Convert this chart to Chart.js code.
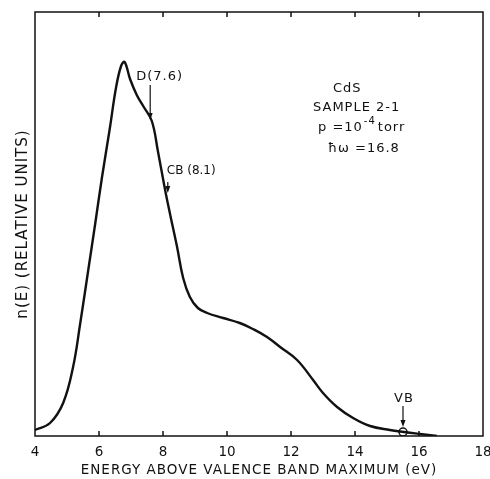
<!DOCTYPE html>
<html lang="en">
<head>
<meta charset="UTF-8">
<title>CdS n(E)</title>
<script src="https://cdn.jsdelivr.net/npm/chart.js"></script>
<style>
  * { margin: 0; padding: 0; box-sizing: border-box; }
  body { background: #fff; }
  #wrap { width: 490px; height: 479px; position: relative; }
</style>
</head>
<body>
<div id="wrap"><canvas id="chart"></canvas></div>
<script>
  // curve (eV, relative units)
  const energy = [4.0, 4.47, 4.88, 5.19, 5.41, 5.66, 5.88, 6.09, 6.34, 6.53, 6.69, 6.80, 6.97, 7.18, 7.38,
                  7.65, 7.84, 8.06, 8.22, 8.44, 8.63, 8.84, 9.09, 9.38, 9.88, 10.4, 10.81, 11.25, 11.66,
                  12.19, 12.69, 13.0, 13.44, 13.94, 14.47, 15.09, 15.53, 16.03, 16.56];
  const nE = [6, 13, 33, 69, 112, 165, 212, 258, 308, 348, 370, 374, 357, 341, 330,
              315, 285, 247, 222, 189, 158, 139, 128, 123, 118, 113, 107, 99, 89,
              76, 56, 43, 29, 18, 10, 6, 4, 2, 0];
  const xTicks = [4, 6, 8, 10, 12, 14, 16, 18];
  const vbEnergy = [15.5];
  const vbValue = [4];

  // arrow markers: label, x (eV), arrow from/to (relative units)
  const markers = [
    { text: 'D(7.6)', x: 7.6, from: 351, to: 316 },
    { text: 'CB (8.1)', x: 8.15, from: 254, to: 243 },
    { text: 'VB', x: 15.5, from: 30, to: 9 }
  ];

  const FONT = '"DejaVu Sans", sans-serif';

  // wide lettering on the axis titles, like the original drawing
  const spacingPlugin = {
    id: 'spacing',
    afterLayout(chart) {
      Object.values(chart.scales).forEach(s => {
        if (s._spaced) return;
        const orig = s.drawTitle;
        s.drawTitle = function () {
          this.ctx.letterSpacing = '1px';
          orig.apply(this, arguments);
          this.ctx.letterSpacing = '0px';
        };
        s._spaced = true;
      });
    }
  };

  const framePlugin = {
    id: 'frame',
    afterDraw(chart) {
      const { ctx, chartArea: a, scales: { x, y } } = chart;
      ctx.save();
      ctx.strokeStyle = '#111';
      ctx.lineWidth = 1.5;
      ctx.strokeRect(a.left, a.top, a.right - a.left, a.bottom - a.top);
      // inward ticks top and bottom
      xTicks.slice(1, -1).forEach(v => {
        const px = x.getPixelForValue(v);
        ctx.beginPath();
        ctx.moveTo(px, a.bottom); ctx.lineTo(px, a.bottom - 5);
        ctx.moveTo(px, a.top); ctx.lineTo(px, a.top + 5);
        ctx.stroke();
      });

      // arrows + labels
      ctx.fillStyle = '#111';
      ctx.lineWidth = 1.2;
      ctx.textBaseline = 'alphabetic';
      markers.forEach(m => {
        const px = x.getPixelForValue(m.x);
        const y1 = y.getPixelForValue(m.from), y2 = y.getPixelForValue(m.to);
        ctx.beginPath();
        ctx.moveTo(px, y1); ctx.lineTo(px, y2 - 5);
        ctx.stroke();
        ctx.beginPath();
        ctx.moveTo(px - 2.5, y2 - 7); ctx.lineTo(px + 2.5, y2 - 7); ctx.lineTo(px, y2);
        ctx.closePath(); ctx.fill();
        ctx.letterSpacing = '1px';
        ctx.font = '13px ' + FONT;
        if (m.text === 'VB') {
          ctx.textAlign = 'center';
          ctx.fillText(m.text, px + 1, y1 - 4);
        } else if (m.text.startsWith('D')) {
          ctx.textAlign = 'left';
          ctx.fillText(m.text, px - 14, y1 - 5);
        } else {
          ctx.letterSpacing = '0px';
          ctx.font = '12px ' + FONT;
          ctx.textAlign = 'left';
          ctx.fillText(m.text, px - 1, y1 - 8);
        }
      });

      // sample info block
      ctx.letterSpacing = '1px';
      ctx.font = '13px ' + FONT;
      ctx.textAlign = 'left';
      ctx.fillText('CdS', 333, 92);
      ctx.fillText('SAMPLE 2-1', 313, 111);
      ctx.fillText('p =10', 318, 131);
      const w = ctx.measureText('p =10').width;
      ctx.font = '10px ' + FONT;
      ctx.fillText('-4', 318 + w + 1, 124);
      const w2 = ctx.measureText('-4').width;
      ctx.font = '13px ' + FONT;
      ctx.fillText('torr', 318 + w + w2 + 3, 131);
      ctx.fillText('\u0127\u03C9 =16.8', 328, 152);
      ctx.restore();
    }
  };

  new Chart(document.getElementById('chart'), {
    type: 'line',
    data: {
      datasets: [
        {
          data: energy.map((e, i) => ({ x: e, y: nE[i] })),
          borderColor: '#111',
          borderWidth: 2.4,
          pointRadius: 0,
          tension: 0.4,
          fill: false
        },
        {
          data: vbEnergy.map((e, i) => ({ x: e, y: vbValue[i] })),
          showLine: false,
          pointRadius: 4,
          pointBorderWidth: 1.5,
          pointBorderColor: '#111',
          pointBackgroundColor: '#fff'
        },
        {
          data: vbEnergy.map((e, i) => ({ x: e, y: vbValue[i] })),
          showLine: false,
          pointRadius: 1,
          pointBorderWidth: 0,
          pointBackgroundColor: '#111'
        }
      ]
    },
    options: {
      responsive: true,
      maintainAspectRatio: false,
      animation: false,
      layout: { padding: { top: 12, right: 7, left: 0, bottom: 0 } },
      plugins: { legend: { display: false }, tooltip: { enabled: false } },
      scales: {
        x: {
          type: 'linear',
          min: 4, max: 18,
          afterBuildTicks: s => { s.ticks = xTicks.map(v => ({ value: v })); },
          grid: { display: false, drawTicks: false },
          border: { display: false },
          ticks: { color: '#111', font: { family: FONT, size: 13.5 }, padding: 8, maxRotation: 0 },
          title: {
            display: true,
            text: 'ENERGY ABOVE VALENCE BAND MAXIMUM (eV)',
            color: '#111',
            font: { family: FONT, size: 13.5 },
            padding: { top: 0, bottom: 0 }
          },
          afterFit: s => { s.height = 43; s.paddingLeft = 0; s.paddingRight = 0; }
        },
        y: {
          min: 0, max: 424,
          grid: { display: false, drawTicks: false },
          border: { display: false },
          ticks: { display: false },
          title: {
            display: true,
            text: 'n(E) (RELATIVE UNITS)',
            color: '#111',
            font: { family: FONT, size: 15 },
            padding: { top: 14, bottom: 0 }
          },
          afterFit: s => { s.width = 35; }
        }
      }
    },
    plugins: [spacingPlugin, framePlugin]
  });
</script>
</body>
</html>
